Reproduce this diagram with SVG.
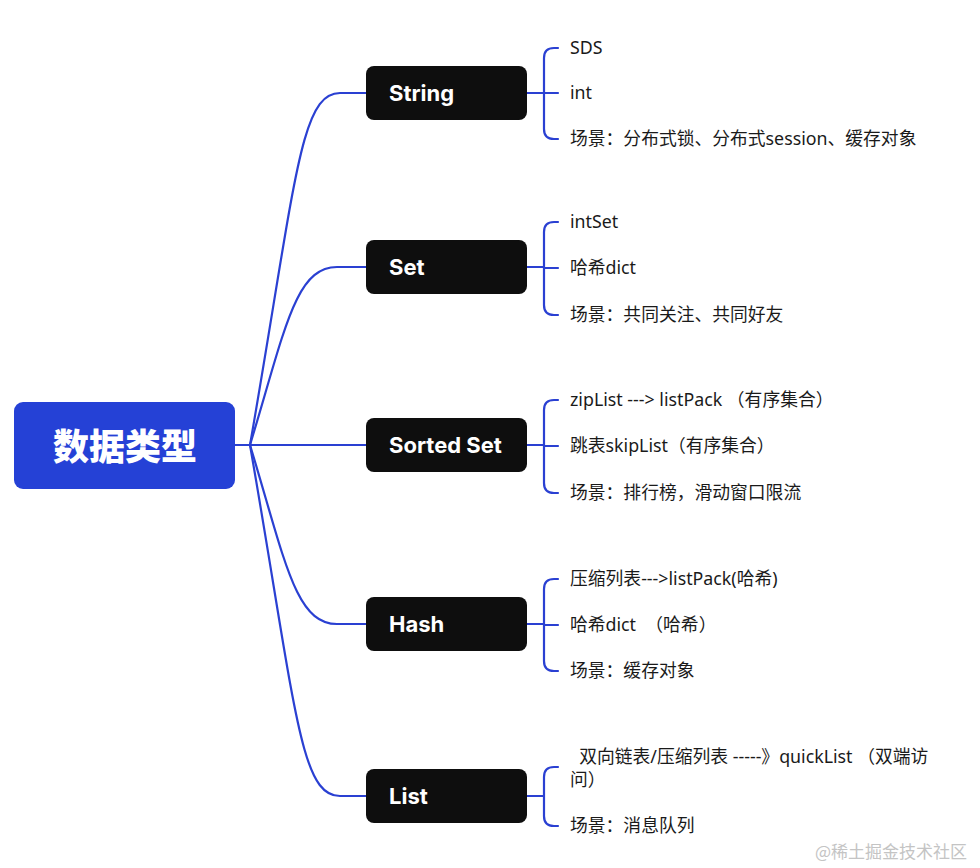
<svg xmlns="http://www.w3.org/2000/svg" width="980" height="868" viewBox="0 0 980 868">
<style>
.ln{fill:none;stroke:#2a40d2;stroke-width:2.2;stroke-linecap:round}
.nd{fill:#0e0e0e}
.nt{fill:#ffffff;font-family:Inter,"Noto Sans","Noto Sans CJK SC",sans-serif;font-weight:700;font-size:22px}
.ct{fill:#1a1a1a;font-family:"Noto Sans","Noto Sans CJK SC",sans-serif;font-size:17.8px;white-space:pre}
.rt{fill:#ffffff;font-family:"Noto Sans CJK SC",sans-serif;font-weight:900;font-size:36px}
.wm{fill:#c4c4c4;font-family:"Noto Sans CJK SC",sans-serif;font-size:17px}
</style>
<rect width="980" height="868" fill="#ffffff"/>
<g id="connectors">
<path class="ln" d="M235,445 H366"/>
<path class="ln" d="M250,445 C296,180 300,93 340,93 H366"/>
<path class="ln" d="M250,445 C285,330 295,267 337,267 H366"/>
<path class="ln" d="M250,445 C285,560 295,624 337,624 H366"/>
<path class="ln" d="M250,445 C296,710 300,796 340,796 H366"/>
<path class="ln" d="M527,93 H544 M558,48 H554 Q544,48 544,58 V129 Q544,139 554,139 H558 M544,93 H558"/>
<path class="ln" d="M527,267 H544 M558,222 H554 Q544,222 544,232 V305 Q544,315 554,315 H558 M544,268 H558"/>
<path class="ln" d="M527,445 H544 M558,400 H554 Q544,400 544,410 V483 Q544,493 554,493 H558 M544,446 H558"/>
<path class="ln" d="M527,624 H544 M558,579 H554 Q544,579 544,589 V661 Q544,671 554,671 H558 M544,625 H558"/>
<path class="ln" d="M527,796 H544 M558,767 H554 Q544,767 544,777 V816 Q544,826 554,826 H558"/>
</g>
<g id="root">
<rect x="14" y="402" width="221" height="87" rx="9" fill="#2541d6"/>
<text class="rt" x="125" y="460" text-anchor="middle">数据类型</text>
</g>
<g id="n-string">
<rect class="nd" x="366" y="66" width="161" height="54" rx="8"/>
<text class="nt" x="389" y="101">String</text>
</g>
<g id="n-set">
<rect class="nd" x="366" y="240" width="161" height="54" rx="8"/>
<text class="nt" x="389" y="275">Set</text>
</g>
<g id="n-sorted">
<rect class="nd" x="366" y="418" width="161" height="54" rx="8"/>
<text class="nt" x="389" y="453">Sorted Set</text>
</g>
<g id="n-hash">
<rect class="nd" x="366" y="597" width="161" height="54" rx="8"/>
<text class="nt" x="389" y="632">Hash</text>
</g>
<g id="n-list">
<rect class="nd" x="366" y="769" width="161" height="54" rx="8"/>
<text class="nt" x="389" y="804">List</text>
</g>
<g id="c-string">
<text class="ct" x="570" y="54">SDS</text>
<text class="ct" x="570" y="99">int</text>
<text class="ct" x="570" y="145">场景：分布式锁、分布式session、缓存对象</text>
</g>
<g id="c-set">
<text class="ct" x="570" y="228">intSet</text>
<text class="ct" x="570" y="274">哈希dict</text>
<text class="ct" x="570" y="321">场景：共同关注、共同好友</text>
</g>
<g id="c-sorted">
<text class="ct" x="570" y="406">zipList ---&gt; listPack （有序集合）</text>
<text class="ct" x="570" y="452">跳表skipList（有序集合）</text>
<text class="ct" x="570" y="499">场景：排行榜，滑动窗口限流</text>
</g>
<g id="c-hash">
<text class="ct" x="570" y="585">压缩列表---&gt;listPack(哈希)</text>
<text class="ct" x="570" y="631">哈希dict  （哈希）</text>
<text class="ct" x="570" y="677">场景：缓存对象</text>
</g>
<g id="c-list">
<text class="ct" x="570" y="763">  双向链表/压缩列表 -----》quickList （双端访</text>
<text class="ct" x="570" y="786">问）</text>
<text class="ct" x="570" y="832">场景：消息队列</text>
</g>
<text class="wm" x="815" y="858">@稀土掘金技术社区</text>
</svg>
